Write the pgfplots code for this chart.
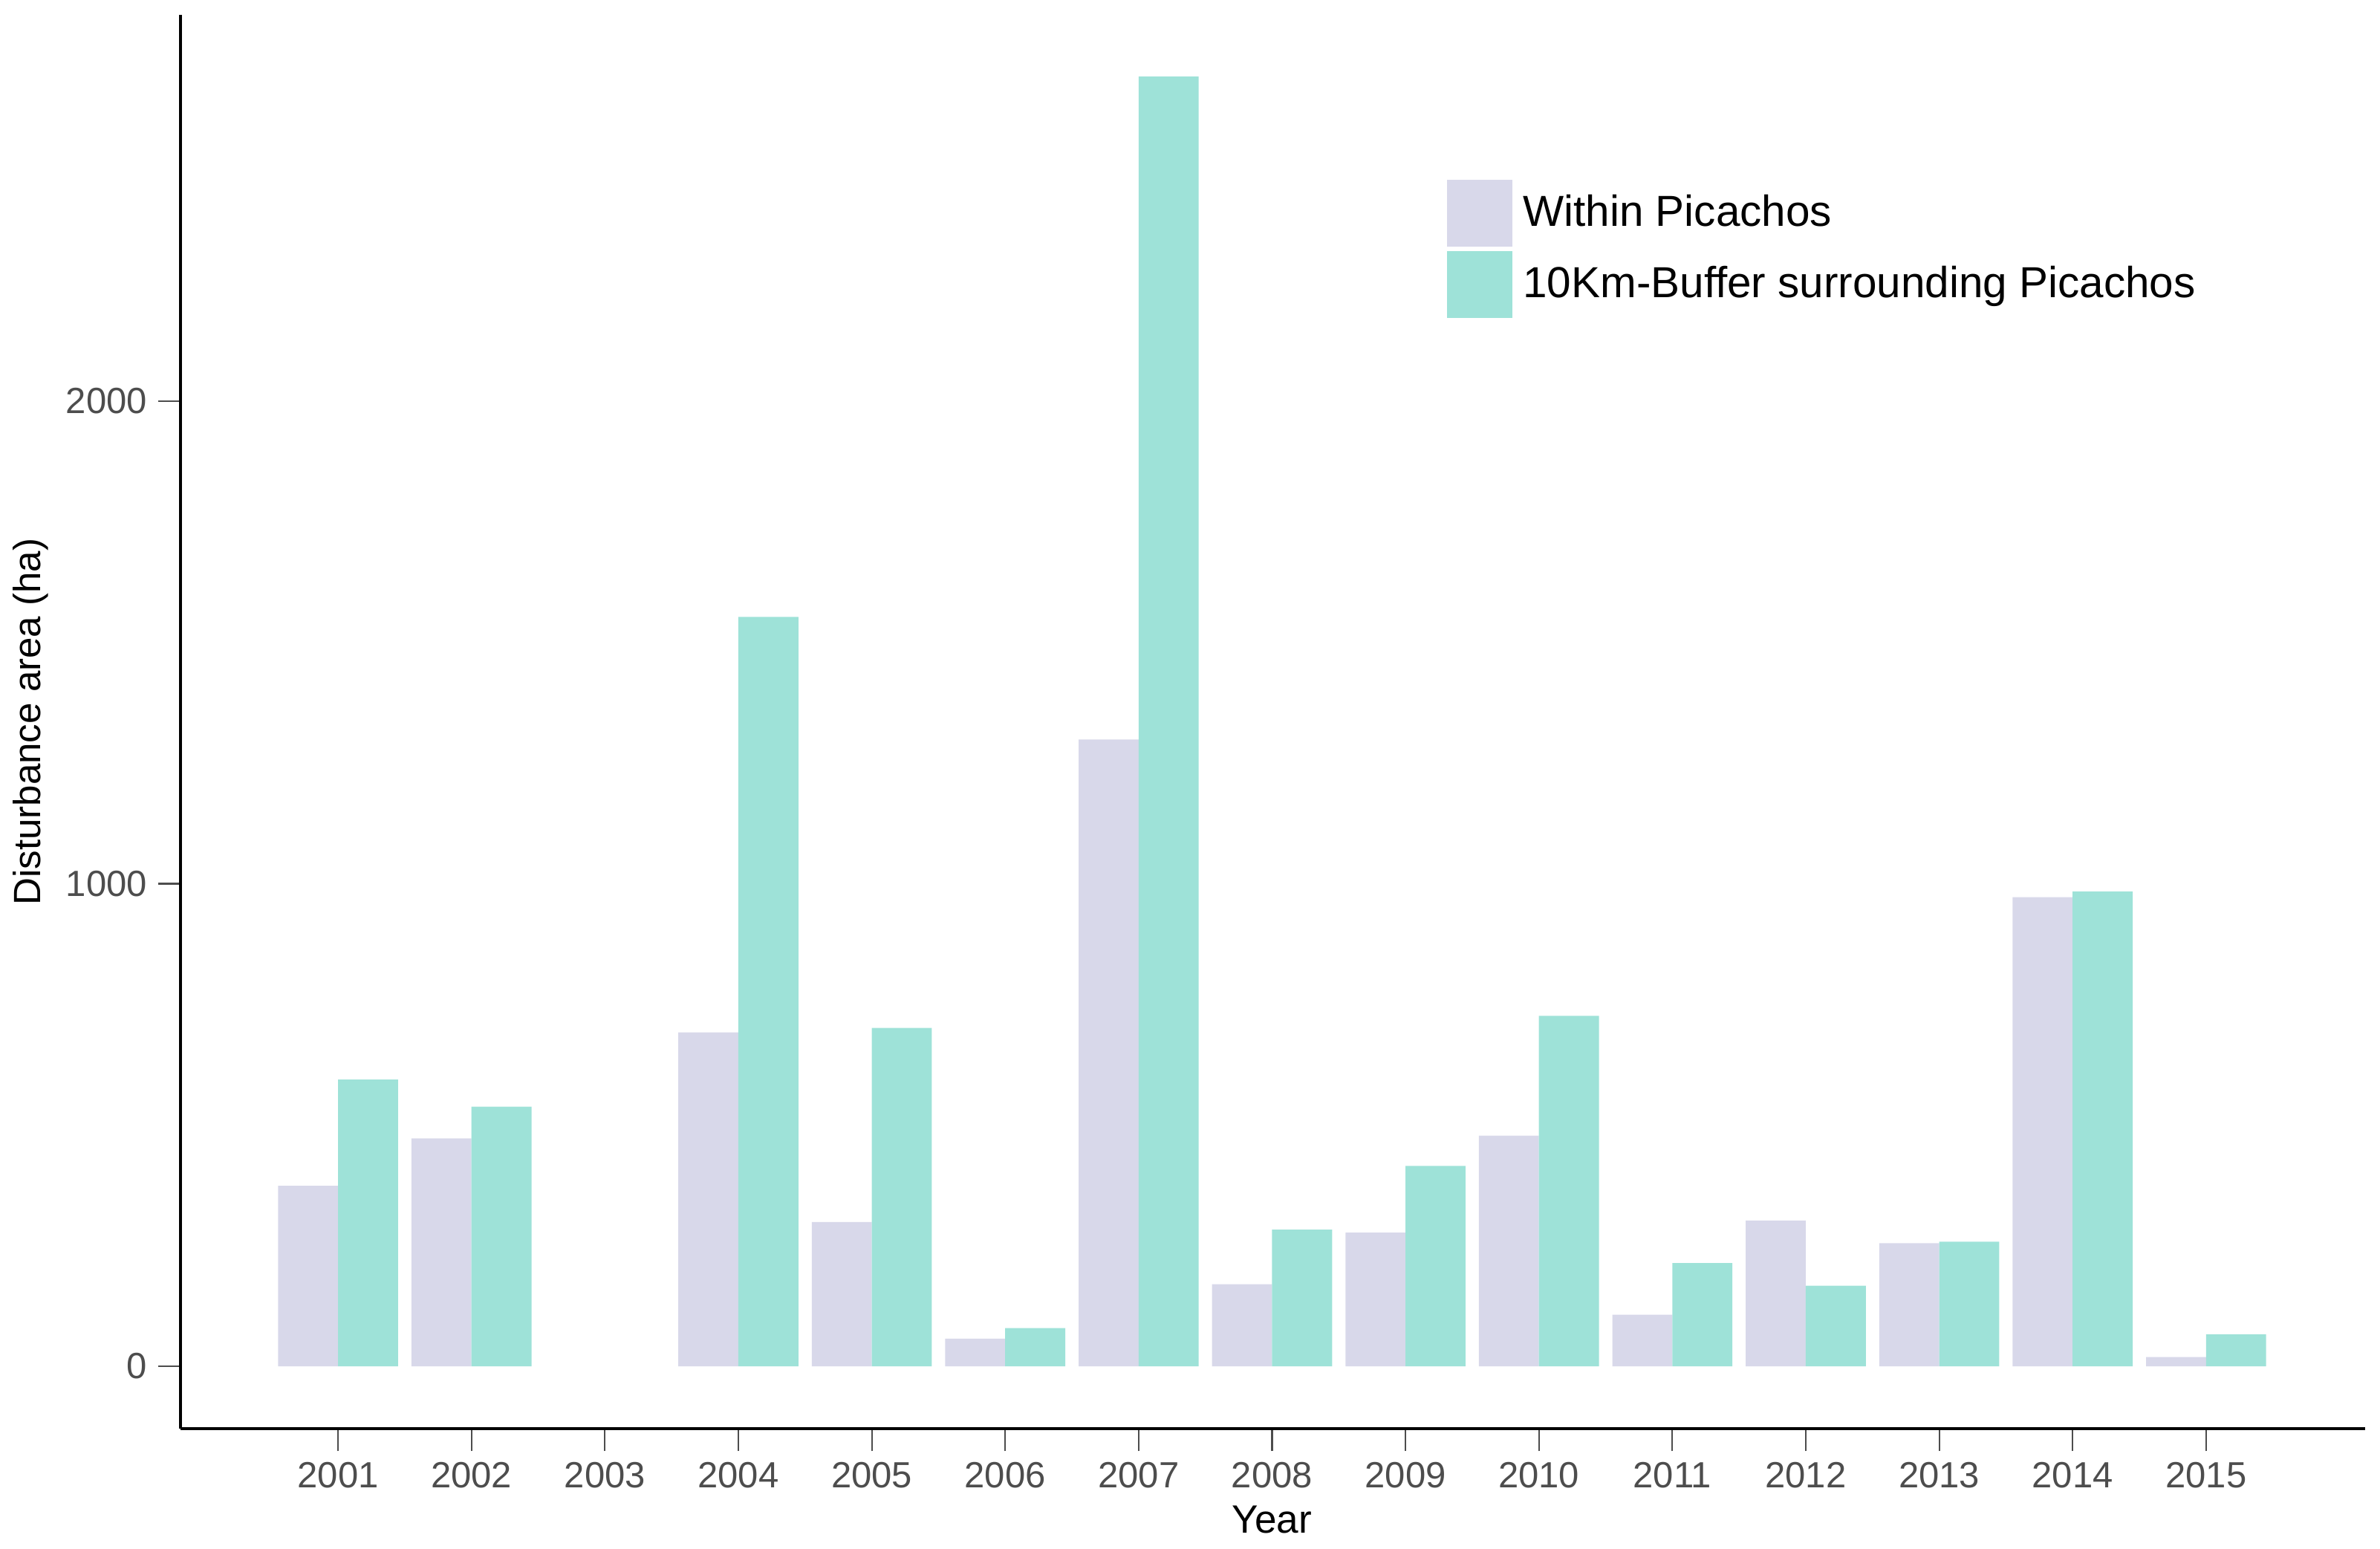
\documentclass[border=0pt]{standalone}
\usepackage{pgfplots}
\pgfplotsset{compat=1.18}
\usepackage{fontspec}
\setmainfont{Liberation Sans}
\definecolor{within}{RGB}{216,216,234}
\definecolor{buffer}{RGB}{158,226,216}
\definecolor{tickgray}{RGB}{77,77,77}
\begin{document}
\begin{tikzpicture}
\begin{axis}[name=ax, scale only axis, width=719.5pt, height=465.5pt,
  xmin=-1.18, xmax=15.19, ymin=-129, ymax=2800,
  axis x line*=bottom, axis y line*=left,
  axis line style={-, black, line width=1pt},
  xtick={0,1,2,3,4,5,6,7,8,9,10,11,12,13,14},
  xticklabels={2001,2002,2003,2004,2005,2006,2007,2008,2009,2010,2011,2012,2013,2014,2015},
  ytick={0,1000,2000},
  tick align=outside, major tick length=7.5pt,
  tick style={tickgray, line width=0.5pt},
  /pgf/number format/1000 sep={},
  /pgf/number format/assume math mode=true,
  ticklabel style={font=\fontsize{12}{14}\selectfont, text=tickgray},
  xlabel={Year}, ylabel={Disturbance area (ha)},
  every axis x label/.style={at={(axis description cs:0.4997,-0.0644)}, anchor=center, font=\fontsize{13}{15}\selectfont},
  every axis y label/.style={at={(axis description cs:-0.0688,0.5)}, anchor=center, rotate=90, font=\fontsize{12.5}{15}\selectfont},
  legend style={draw=none, fill=none, at={(0.5796,0.884)}, anchor=north west,
    font=\fontsize{14.3}{17}\selectfont, row sep=1.5pt, inner sep=0pt, nodes={inner sep=1.5pt}},
  legend cell align=left,
  legend image code/.code={\fill[#1] (0pt,-11pt) rectangle (21.5pt,11pt);},
]
\addplot[ybar, bar width=0.45, bar shift=0pt, fill=within, draw=none] coordinates {
(-0.225,374) (0.775,472) (2.775,692) (3.775,299) (4.775,57) (5.775,1299)
(6.775,170) (7.775,277) (8.775,478) (9.775,107) (10.775,302) (11.775,255) (12.775,972) (13.775,19)};
\addlegendentry{\hspace{2pt}Within Picachos}
\addplot[ybar, bar width=0.45, bar shift=0pt, fill=buffer, draw=none] coordinates {
(0.225,594) (1.225,538) (3.225,1553) (4.225,701) (5.225,79) (6.225,2673)
(7.225,283) (8.225,415) (9.225,726) (10.225,214) (11.225,167) (12.225,258) (13.225,984) (14.225,66)};
\addlegendentry{\hspace{2pt}10Km-Buffer surrounding Picachos}
\end{axis}
\path ([xshift=-59.5pt,yshift=-39.5pt]ax.south west) rectangle ([xshift=5pt,yshift=5pt]ax.north east);
\end{tikzpicture}
\end{document}
